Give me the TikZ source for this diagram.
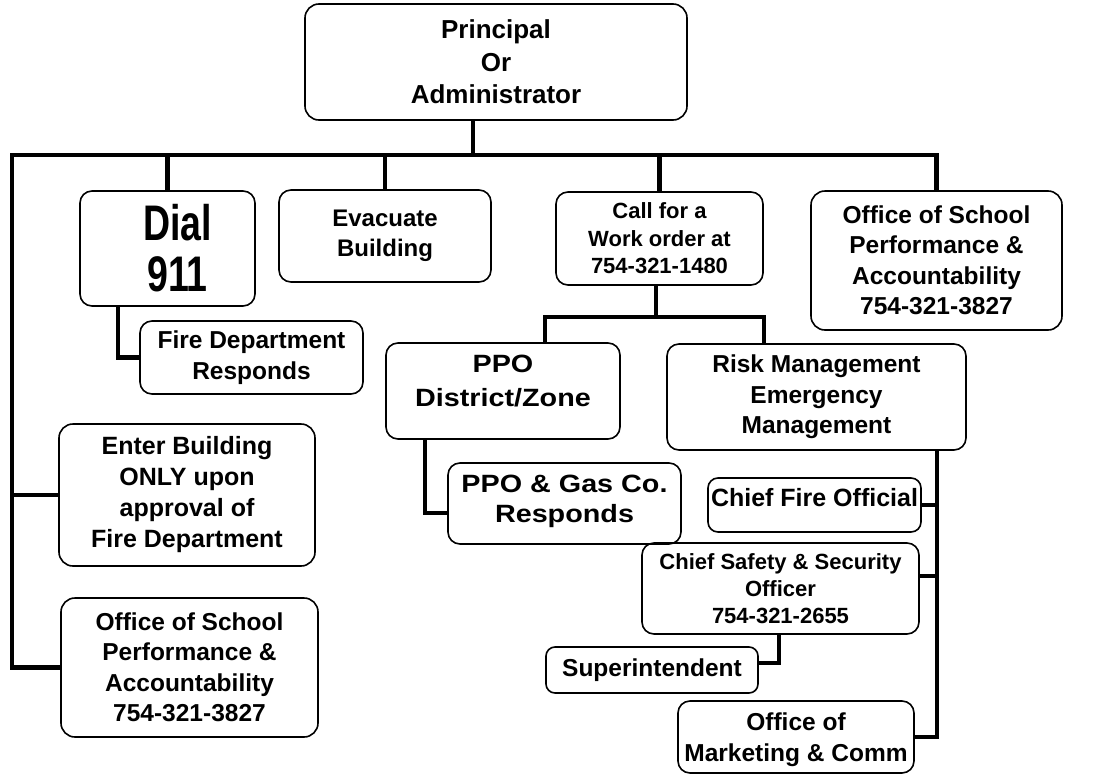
\documentclass[tikz,border=0pt]{standalone}
\usepackage{fontspec}
\setmainfont{Liberation Sans}
\newfontfamily\narrowfont[FakeStretch=0.75]{Liberation Sans}
\newfontfamily\widefont[FakeStretch=1.15]{Liberation Sans}
\begin{document}
\begin{tikzpicture}[x=1pt,y=-1pt,
  box/.style={draw, line width=1.6pt, rounded corners=12pt, align=center,
    inner sep=0pt, font=\bfseries\fontsize{24.5}{30.5}\selectfont},
  conn/.style={line width=4.6pt, line cap=butt, line join=miter}]
\useasboundingbox (0,0) rectangle (1109,774);

% top level
\node[box, rounded corners=14pt, minimum width=382, minimum height=116,
  font=\bfseries\fontsize{26}{32.5}\selectfont] (principal) at (496,62)
  {Principal\\Or\\Administrator};

% second level
\node[box, minimum width=175, minimum height=115,
  font=\narrowfont\bfseries\fontsize{50}{51}\selectfont] (dial) at (167.5,248.5)
  {\hspace*{20pt}Dial\\\hspace*{20pt}911};
\node[box, minimum width=212, minimum height=92, font=\bfseries\fontsize{24}{30}\selectfont]
  (evac) at (385,236) {Evacuate\\Building};
\node[box, minimum width=207, minimum height=93,
  font=\bfseries\fontsize{22}{27.5}\selectfont] (call) at (659.5,238.5)
  {Call for a\\Work order at\\754-321-1480};
\node[box, rounded corners=14pt, minimum width=251, minimum height=139] (officeR) at (936.5,260.5)
  {Office of School\\Performance \&\\Accountability\\754-321-3827};

% left column
\node[box, minimum width=223, minimum height=73] (fireresp) at (251.5,357.5)
  {Fire Department\\Responds};
\node[box, rounded corners=14pt, minimum width=256, minimum height=142,
  font=\bfseries\fontsize{25}{31}\selectfont] (enter) at (187,495)
  {Enter Building\\ONLY upon\\approval of\\Fire Department};
\node[box, rounded corners=14pt, minimum width=257, minimum height=139] (officeL) at (189.5,667.5)
  {Office of School\\Performance \&\\Accountability\\754-321-3827};

% work order branch
\node[box, minimum width=234, minimum height=96,
  font=\widefont\bfseries\fontsize{25}{34}\selectfont] (ppo) at (503,391)
  {\raisebox{1.6pt}[0pt][0pt]{\begin{tabular}{@{}c@{}}PPO\\District/Zone\end{tabular}}};
\node[box, minimum width=299, minimum height=106] (risk) at (816.5,397)
  {Risk Management\\Emergency\\Management};
\node[box, minimum width=233, minimum height=81,
  font=\widefont\bfseries\fontsize{25}{29.5}\selectfont] (ppogas) at (564.5,503.5)
  {\raisebox{-4.5pt}[0pt][0pt]{\begin{tabular}{@{}c@{}}PPO \& Gas Co.\\Responds\end{tabular}}};

% risk management branch
\node[box, rounded corners=10pt, minimum width=213, minimum height=54,
  font=\bfseries\fontsize{25}{30.5}\selectfont] (chieffire) at (814.5,505)
  {\raisebox{-1.8pt}[0pt][0pt]{Chief Fire Official}};
\node[box, rounded corners=12pt, minimum width=277, minimum height=91,
  font=\bfseries\fontsize{22}{27}\selectfont] (chiefsafety) at (780.5,588.5)
  {Chief Safety \& Security\\Officer\\754-321-2655};
\node[box, rounded corners=9pt, minimum width=212, minimum height=46] (super) at (652,670)
  {Superintendent};
\node[box, rounded corners=12pt, minimum width=236, minimum height=72] (marketing) at (796,737)
  {\raisebox{-9.3pt}[0pt][0pt]{\begin{tabular}{@{}c@{}}Office of\\Marketing \& Comm\end{tabular}}};

% connector anchors
\coordinate (spine) at (12,155);
\coordinate (pdrop) at (473,155);
\coordinate (subL) at (545,317);
\coordinate (subR) at (764,317);
\coordinate (rspine) at (937,450);

% main bus, left spine and right drop
\draw[conn] (officeL.west) -| (spine) -- (officeR.north |- spine) -- (officeR.north);
\draw[conn] (principal.south -| pdrop) -- (pdrop);
\draw[conn] (dial.north |- spine) -- (dial.north);
\draw[conn] (evac.north |- spine) -- (evac.north);
\draw[conn] (call.north |- spine) -- (call.north);
\draw[conn] (enter.west) -- (enter.west -| spine);

% dial 911 to fire department
\draw[conn] ([xshift=-49.5pt]dial.south) |- (fireresp.west);

% work order branch
\draw[conn] ([xshift=-3.5pt]call.south) -- ([xshift=-3.5pt]call.south |- subL);
\draw[conn] (ppo.north -| subL) -- (subL) -- (subR) -- (risk.north -| subR);
\draw[conn] ([xshift=-78pt]ppo.south) |- ([yshift=-9.5pt]ppogas.west);

% risk management branch
\draw[conn] (risk.south -| rspine) |- (marketing.east);
\draw[conn] (chieffire.east) -- (chieffire.east -| rspine);
\draw[conn] ([yshift=12.5pt]chiefsafety.east) -- ([yshift=12.5pt]chiefsafety.east -| rspine);
\draw[conn] ([xshift=-1.5pt]chiefsafety.south) |- ([yshift=7pt]super.east);
\end{tikzpicture}
\end{document}
